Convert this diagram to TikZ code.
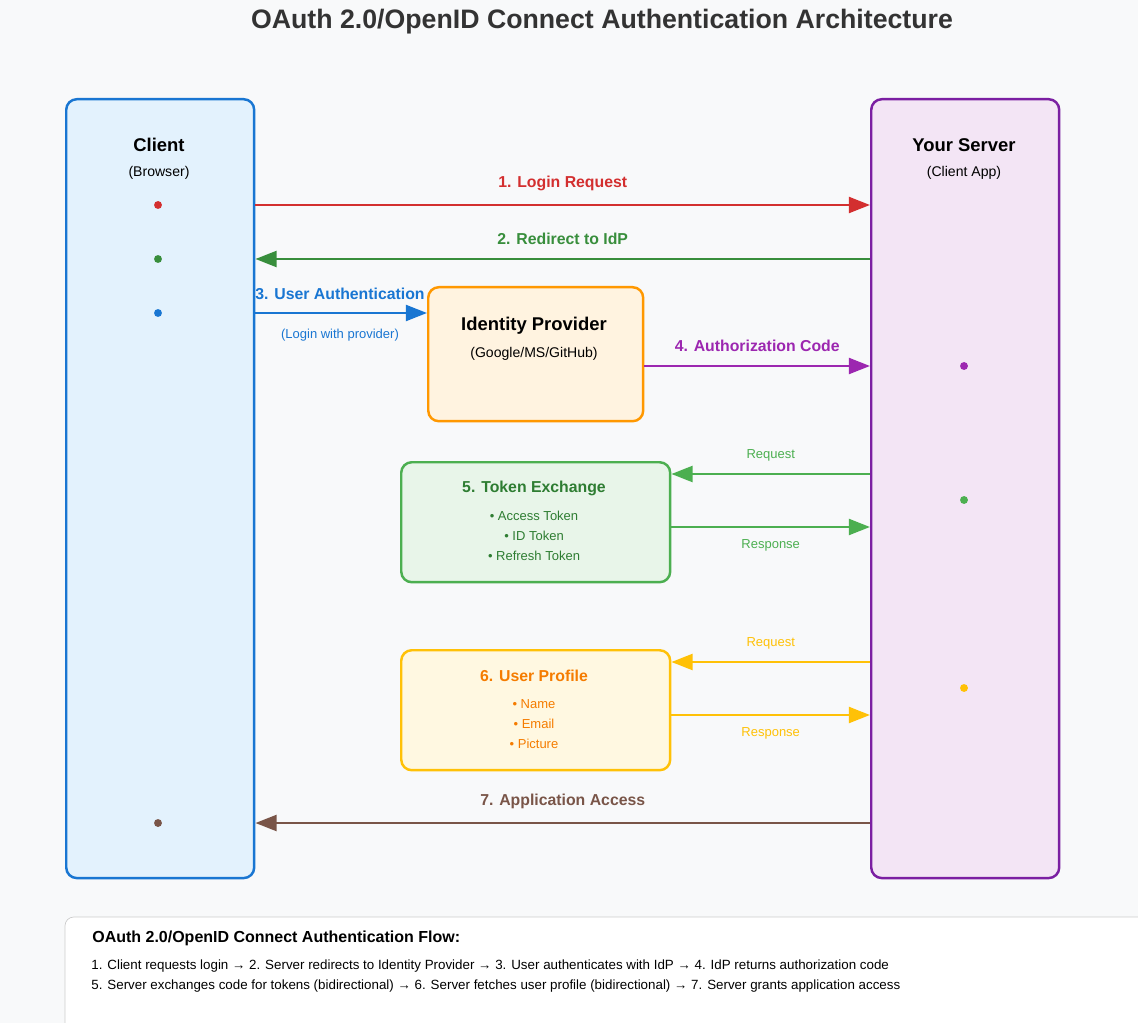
\documentclass[tikz,border=0pt]{standalone}
\usepackage{fontspec}
\setmainfont{Liberation Sans}
\usetikzlibrary{arrows.meta,positioning}
\definecolor{bgc}{HTML}{F8F9FA}
\definecolor{cblue}{HTML}{1976D2}\definecolor{cbluef}{HTML}{E3F2FD}
\definecolor{cpurp}{HTML}{7B1FA2}\definecolor{cpurpf}{HTML}{F3E5F5}
\definecolor{corng}{HTML}{FF9800}\definecolor{corngf}{HTML}{FFF3E0}
\definecolor{cgrn}{HTML}{4CAF50}\definecolor{cgrnf}{HTML}{E8F5E9}
\definecolor{cgrnd}{HTML}{388E3C}\definecolor{cgrnt}{HTML}{2E7D32}
\definecolor{cyel}{HTML}{FFC107}\definecolor{cyelf}{HTML}{FFF8E1}
\definecolor{cyelt}{HTML}{F57C00}
\definecolor{cred}{HTML}{D32F2F}\definecolor{cbrn}{HTML}{795548}
\definecolor{cpurpa}{HTML}{9C27B0}
\tikzset{
  box/.style={draw, rounded corners=6pt, line width=1.4pt, anchor=north west, inner sep=0pt},
  dot/.style={circle, fill, inner sep=0pt, minimum size=4.5pt},
  flow/.style={line width=1.5pt, -{Triangle[length=12pt,width=9pt]}},
  lbl/.style={font=\bfseries\fontsize{9}{10}\selectfont},
  sml/.style={font=\fontsize{7.4}{9}\selectfont}
}
\begin{document}
\begin{tikzpicture}[x=0.02cm,y=-0.02cm]
  % Background
  \fill[bgc] (0,0) rectangle (1138,1023);
  \useasboundingbox (0,0) rectangle (1138,1023);
  \node[font=\bfseries\fontsize{15.2}{17}\selectfont, text=black!80] (title) at (602,22) {OAuth 2.0/OpenID Connect Authentication Architecture};

  % Lanes
  \node[box, draw=cblue, fill=cbluef, minimum width=3.76cm, minimum height=15.58cm] (client) at (65,98) {};
  \node[box, draw=cpurp, fill=cpurpf, minimum width=3.76cm, minimum height=15.58cm] (server) at (870,98) {};
  \node[font=\bfseries\fontsize{10.5}{12}\selectfont] at (159,145) {Client};
  \node[font=\fontsize{8}{9}\selectfont] at (159,173) {(Browser)};
  \node[font=\bfseries\fontsize{10.5}{12}\selectfont] at (964,145) {Your Server};
  \node[font=\fontsize{8}{9}\selectfont] at (964,173) {(Client App)};

  % Middle boxes
  \node[box, draw=corng, fill=corngf, minimum width=4.3cm, minimum height=2.68cm] (idp) at (427,286) {};
  \node[font=\bfseries\fontsize{10.5}{12}\selectfont] at (534,326) {Identity Provider};
  \node[font=\fontsize{8}{9}\selectfont] at (534,354) {(Google/MS/GitHub)};
  \node[box, draw=cgrn, fill=cgrnf, minimum width=5.38cm, minimum height=2.4cm] (token) at (400,461) {};
  \node[font=\bfseries\fontsize{9}{11}\selectfont, text=cgrnt] at (534,488) {5. Token Exchange};
  \node[text=cgrnt, align=center, font=\fontsize{7.4}{11.5}\selectfont] at (534,536) {• Access Token\\• ID Token\\• Refresh Token};
  \node[box, draw=cyel, fill=cyelf, minimum width=5.38cm, minimum height=2.4cm] (profile) at (400,649) {};
  \node[font=\bfseries\fontsize{9}{11}\selectfont, text=cyelt] at (534,676) {6. User Profile};
  \node[text=cyelt, align=center, font=\fontsize{7.4}{11.5}\selectfont] at (534,724) {• Name\\• Email\\• Picture};

  % Dots
  \node[dot, cred] (c1) at (158,205) {};
  \node[dot, cgrnd] (c2) at (158,259) {};
  \node[dot, cblue] (c3) at (158,313) {};
  \node[dot, cbrn] (c7) at (158,823) {};
  \node[dot, cpurpa] (s4) at (964,366) {};
  \node[dot, cgrn] (s5) at (964,500) {};
  \node[dot, cyel] (s6) at (964,688) {};

  % Arrows
  \draw[flow, cred] (client.east |- c1) -- node[lbl, above=4pt] {1. Login Request} (server.west |- c1);
  \draw[flow, cgrnd] (server.west |- c2) -- node[lbl, above=4pt] {2. Redirect to IdP} (client.east |- c2);
  \draw[flow, cblue] (client.east |- c3) -- (idp.west |- c3);
  \node[lbl, text=cblue] at (340,294) {3. User Authentication};
  \node[sml, text=cblue] at (340,335) {(Login with provider)};
  \draw[flow, cpurpa] (idp.east |- s4) -- node[lbl, above=4pt] {4. Authorization Code} (server.west |- s4);
  \coordinate (t1) at (0,474); \coordinate (t2) at (0,527);
  \draw[flow, cgrn] (server.west |- t1) -- node[sml, above=3pt] {Request} (token.east |- t1);
  \draw[flow, cgrn] (token.east |- t2) -- node[sml, below=3pt] {Response} (server.west |- t2);
  \coordinate (p1) at (0,662); \coordinate (p2) at (0,715);
  \draw[flow, cyel] (server.west |- p1) -- node[sml, above=3pt] {Request} (profile.east |- p1);
  \draw[flow, cyel] (profile.east |- p2) -- node[sml, below=3pt] {Response} (server.west |- p2);
  \draw[flow, cbrn] (server.west |- c7) -- node[lbl, above=4pt] {7. Application Access} (client.east |- c7);

  % Summary
  \fill[white, rounded corners=5pt] (65,1040) rectangle (1150,917);
  \draw[black!20, rounded corners=5pt] (65,1040) -- (65,917) -- (1150,917);
  \node[anchor=west, inner sep=0pt, font=\bfseries\fontsize{9.1}{11}\selectfont] (sumtitle) at (92,938) {OAuth 2.0/OpenID Connect Authentication Flow:};
  \node[anchor=west, inner sep=0pt, font=\fontsize{7.6}{9}\selectfont] (sum1) at (91,966) {1. Client requests login → 2. Server redirects to Identity Provider → 3. User authenticates with IdP → 4. IdP returns authorization code};
  \node[anchor=west, inner sep=0pt, font=\fontsize{7.6}{9}\selectfont] (sum2) at (91,986) {5. Server exchanges code for tokens (bidirectional) → 6. Server fetches user profile (bidirectional) → 7. Server grants application access};
\end{tikzpicture}
\end{document}
